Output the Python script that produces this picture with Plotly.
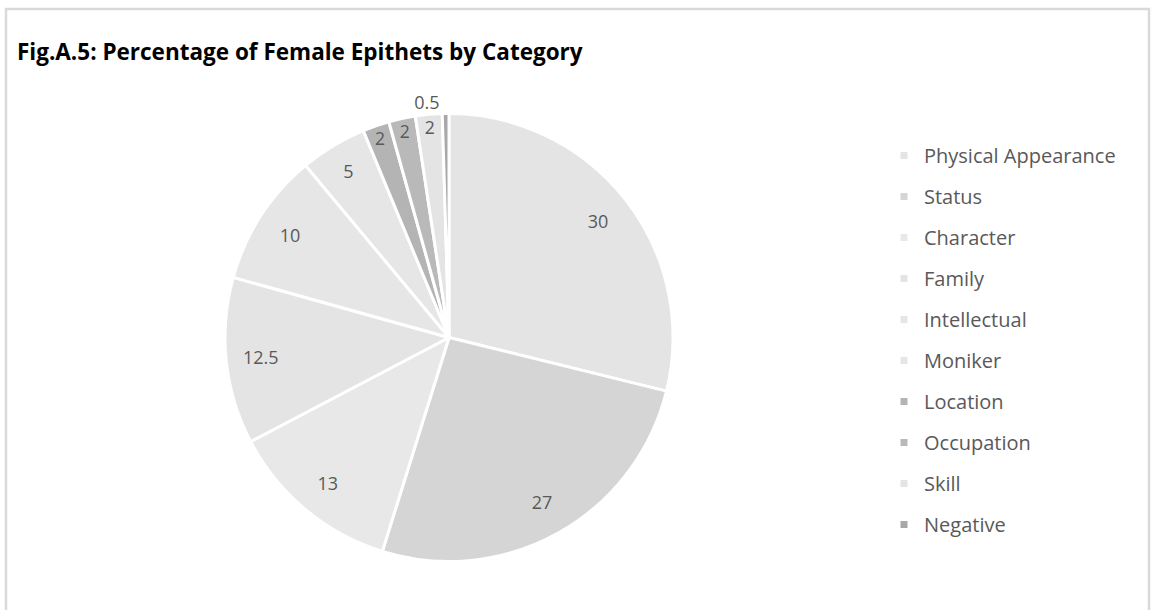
import plotly.graph_objects as go

categories = ["Physical Appearance", "Status", "Character", "Family", "Intellectual",
              "Moniker", "Location", "Occupation", "Skill", "Negative"]
values = [30, 27, 13, 12.5, 10, 5, 2, 2, 2, 0.5]
colors = ["#e4e4e4", "#d5d5d5", "#e8e8e8", "#e4e4e4", "#e6e6e6",
          "#e6e6e6", "#b4b4b4", "#b9b9b9", "#e4e4e4", "#a8a8a8"]
text_pos = ["inside"] * 9 + ["outside"]

W, H = 1151, 610
cx, cy, R = 449, 337.5, 224
domain = dict(x=[(cx - R) / W, (cx + R) / W], y=[1 - (cy + R) / H, 1 - (cy - R) / H])

fig = go.Figure()
# filled pie (no text)
fig.add_trace(go.Pie(
    labels=categories, values=values, sort=False, direction="clockwise", rotation=0,
    marker=dict(colors=colors, line=dict(color="white", width=3)),
    textinfo="none", showlegend=False, hoverinfo="label+value", domain=domain,
))
# transparent ring carrying the value labels near the rim
fig.add_trace(go.Pie(
    labels=categories, values=values, sort=False, direction="clockwise", rotation=0,
    hole=0.69,
    marker=dict(colors=["rgba(0,0,0,0)"] * len(values), line=dict(width=0)),
    texttemplate="%{value}", textposition=text_pos,
    insidetextorientation="horizontal",
    textfont=dict(family="Open Sans", size=18, color="#595959"),
    showlegend=False, hoverinfo="skip", domain=domain,
))

for i, (cat, col) in enumerate(zip(categories, colors)):
    fig.add_trace(go.Scatter(
        x=[None], y=[None], mode="markers", name=cat, legendgroup=f"g{i}",
        marker=dict(symbol="square", size=7, color=col),
        showlegend=True,
    ))

fig.update_layout(
    width=W, height=H,
    margin=dict(l=0, r=0, t=0, b=0),
    paper_bgcolor="white", plot_bgcolor="white",
    xaxis=dict(visible=False), yaxis=dict(visible=False),
    title=dict(text="<b>Fig.A.5: Percentage of Female Epithets by Category</b>",
               x=17 / W, xanchor="left", xref="paper",
               y=1 - 52 / H, yanchor="middle", yref="paper",
               font=dict(family="Open Sans", size=22.5, color="black")),
    legend=dict(x=884 / W, xanchor="left", y=1 - 136 / H, yanchor="top",
                font=dict(family="Open Sans", size=20, color="#595959"),
                tracegroupgap=12, itemwidth=30, bgcolor="rgba(0,0,0,0)"),
    shapes=[dict(type="rect", xref="paper", yref="paper",
                 x0=6 / W, x1=1149 / W, y0=-0.1, y1=1 - 9 / H,
                 line=dict(color="#d9d9d9", width=2.5), layer="below")],
)

fig.write_html("out.html")
